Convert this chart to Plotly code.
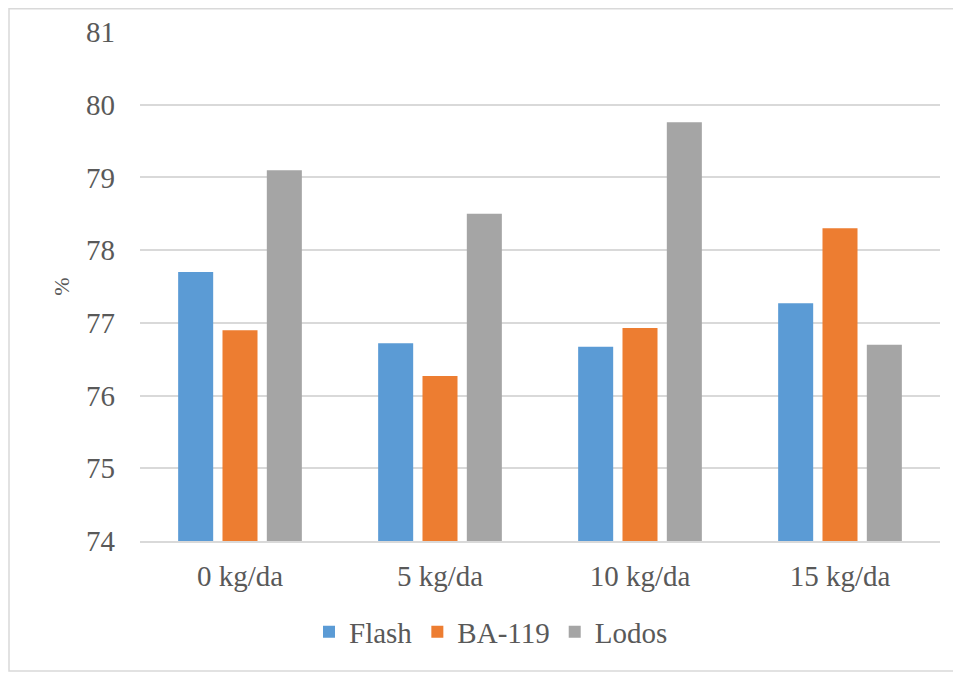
import plotly.graph_objects as go

categories = ["0 kg/da", "5 kg/da", "10 kg/da", "15 kg/da"]
flash = [77.70, 76.72, 76.67, 77.27]
ba119 = [76.90, 76.27, 76.93, 78.30]
lodos = [79.10, 78.50, 79.76, 76.70]
y_ticks = [74, 75, 76, 77, 78, 79, 80, 81]

series = [("Flash", flash, "#5B9BD5"), ("BA-119", ba119, "#ED7D31"), ("Lodos", lodos, "#A5A5A5")]

# page body has an 8px margin; figure coordinates = screen - 8
W, H = 953, 665
L, T = 132, 24
pw, ph = 800, 509
R, B = W - L - pw, H - T - ph

fig = go.Figure()
for name, vals, col in series:
    fig.add_trace(go.Bar(
        x=categories, y=vals, name=name,
        marker=dict(color=col, line=dict(width=0)),
    ))

font_family = "Liberation Serif"
txt = "#595959"
fs = 29

def px_x(sx):
    return (sx - 8 - L) / pw

def px_y(sy):
    return (T + ph - (sy - 8)) / ph

fig.update_layout(
    width=W, height=H,
    margin=dict(l=L, r=R, t=T, b=B, autoexpand=False),
    paper_bgcolor="white", plot_bgcolor="white",
    barmode="group", bargap=0.335, bargroupgap=0.21,
    font=dict(family=font_family, color=txt, size=fs),
    showlegend=True,
    legend=dict(orientation="h", x=px_x(491), xanchor="center",
                y=px_y(632), yanchor="middle",
                font=dict(family=font_family, size=fs, color=txt),
                traceorder="normal", bgcolor="rgba(0,0,0,0)"),
    xaxis=dict(showgrid=False, showline=True, linecolor="#D9D9D9", linewidth=1.5,
               ticks="", tickfont=dict(family=font_family, size=fs, color=txt),
               ticklabelstandoff=8, fixedrange=True),
    yaxis=dict(range=[74, 81], tickvals=y_ticks, showgrid=True, gridcolor="#D9D9D9",
               gridwidth=1.5, zeroline=False, showline=False, ticks="",
               tickfont=dict(family=font_family, size=fs, color=txt), ticklabelstandoff=24,
               title=dict(text="%", font=dict(family=font_family, size=22, color=txt), standoff=10),
               fixedrange=True),
    shapes=[dict(type="rect", xref="paper", yref="paper",
                 x0=px_x(9), x1=px_x(975),
                 y0=px_y(671), y1=px_y(8.7),
                 line=dict(color="#D9D9D9", width=1.5), fillcolor="rgba(0,0,0,0)", layer="below")],
)

fig.write_html("out.html")
